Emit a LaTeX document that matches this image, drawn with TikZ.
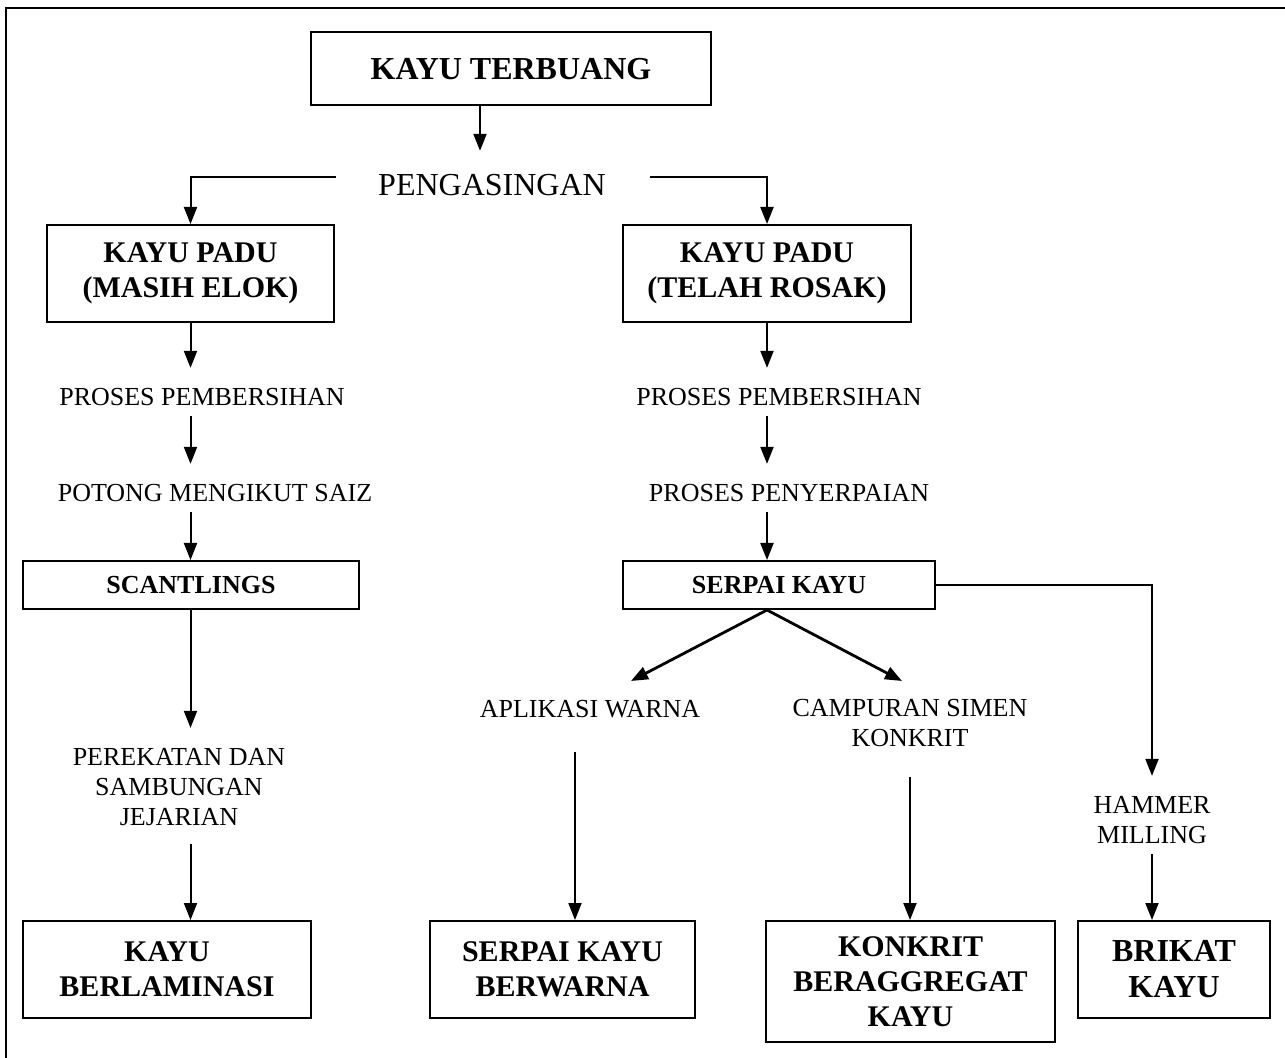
\documentclass[tikz,border=0pt]{standalone}
\usepackage{fontspec}
\setmainfont{Liberation Serif}
\usetikzlibrary{arrows.meta,positioning}

\begin{document}
\begin{tikzpicture}[
  x=0.5pt, y=-0.5pt,
  every node/.style={font=\fontsize{13}{15}\selectfont},
  bigbox/.style={draw, line width=1pt, align=center, font=\fontsize{15}{17.5}\selectfont\bfseries, minimum height=48.5pt},
  thinbox/.style={draw, line width=1pt, align=center, font=\fontsize{13}{15}\selectfont\bfseries, minimum height=24pt},
  lbl/.style={align=center, inner sep=5pt},
  edge/.style={-{Triangle[length=8.5pt,width=6.5pt]}, line width=1pt},
  tolbl/.style={edge, shorten >=5pt},
  fork/.style={edge, line width=1.4pt}
]
\clip (0,0) rectangle (1285,1058);
\draw[line width=1pt] (6,8) rectangle (1300,1075);

\node[bigbox, minimum width=200pt, minimum height=36.5pt, font=\fontsize{16}{19}\selectfont\bfseries] (waste) at (511,69) {KAYU TERBUANG};
\node[lbl, font=\fontsize{16}{19}\selectfont] (sort) at (492,185) {PENGASINGAN};
\node[bigbox, minimum width=143.5pt] (solidok) at (190.5,273.5) {KAYU PADU\\(MASIH ELOK)};
\node[bigbox, minimum width=144pt] (soliddmg) at (767,273.5) {KAYU PADU\\(TELAH ROSAK)};
\node[lbl] (cleanl) at (202,397) {PROSES PEMBERSIHAN};
\node[lbl] (cleanr) at (779,397) {PROSES PEMBERSIHAN};
\node[lbl] (cut) at (215,493) {POTONG MENGIKUT SAIZ};
\node[lbl] (chip) at (789,493) {PROSES PENYERPAIAN};
\node[thinbox, minimum width=168pt] (scant) at (191,585) {SCANTLINGS};
\node[thinbox, minimum width=156pt] (flakes) at (779,585) {SERPAI KAYU};
\node[lbl] (glue) at (179,787) {PEREKATAN DAN\\SAMBUNGAN\\JEJARIAN};
\node[lbl] (colour) at (590,709) {APLIKASI WARNA};
\node[lbl] (cement) at (910,723) {CAMPURAN SIMEN\\KONKRIT};
\node[lbl] (hammer) at (1152,820) {HAMMER\\MILLING};
\node[bigbox, minimum width=144pt] (laminated) at (167,969.5) {KAYU\\BERLAMINASI};
\node[bigbox, minimum width=132.5pt] (coloured) at (562.5,969.5) {SERPAI KAYU\\BERWARNA};
\node[bigbox, minimum width=144.5pt, minimum height=60.5pt] (concrete) at (910.5,981.5) {KONKRIT\\BERAGGREGAT\\KAYU};
\node[bigbox, minimum width=96pt, font=\fontsize{16}{18}\selectfont\bfseries] (briquette) at (1174,969.5) {BRIKAT\\KAYU};

\coordinate (colourtip) at (631,681);
\coordinate (cementtip) at (902,681);

% pengasingan
\draw[edge, shorten >=6.5pt] ([xshift=-15.5pt]waste.south) -- ([xshift=-15.5pt]waste.south |- sort.north);
\draw[edge, shorten <=16pt] ([yshift=4pt]sort.west) -| (solidok.north);
\draw[edge, shorten <=17pt] ([yshift=4pt]sort.east) -| (soliddmg.north);

% kiri
\draw[tolbl] (solidok) -- (solidok |- cleanl.north);
\draw[tolbl] (solidok |- cleanl.south) -- (solidok |- cut.north);
\draw[edge] (solidok |- cut.south) -- (solidok |- scant.north);
\draw[tolbl] (solidok |- scant.south) -- (solidok |- glue.north);
\draw[edge, shorten <=4pt] (solidok |- glue.south) -- (solidok |- laminated.north);

% kanan
\draw[tolbl] (soliddmg) -- (soliddmg |- cleanr.north);
\draw[tolbl] (soliddmg |- cleanr.south) -- (soliddmg |- chip.north);
\draw[edge] (soliddmg |- chip.south) -- (soliddmg |- flakes.north);
\draw[fork] (soliddmg |- flakes.south) -- (colourtip);
\draw[fork] (soliddmg |- flakes.south) -- (cementtip);
\draw[edge, shorten <=12pt] ([xshift=-7.5pt]colour.south) -- ([xshift=-7.5pt]colour.south |- coloured.north);
\draw[edge, shorten <=10pt] (cement.south) -- (cement.south |- concrete.north);
\draw[tolbl] (flakes.east) -| (hammer.north);
\draw[edge] (hammer.south) -- (hammer.south |- briquette.north);
\end{tikzpicture}
\end{document}
